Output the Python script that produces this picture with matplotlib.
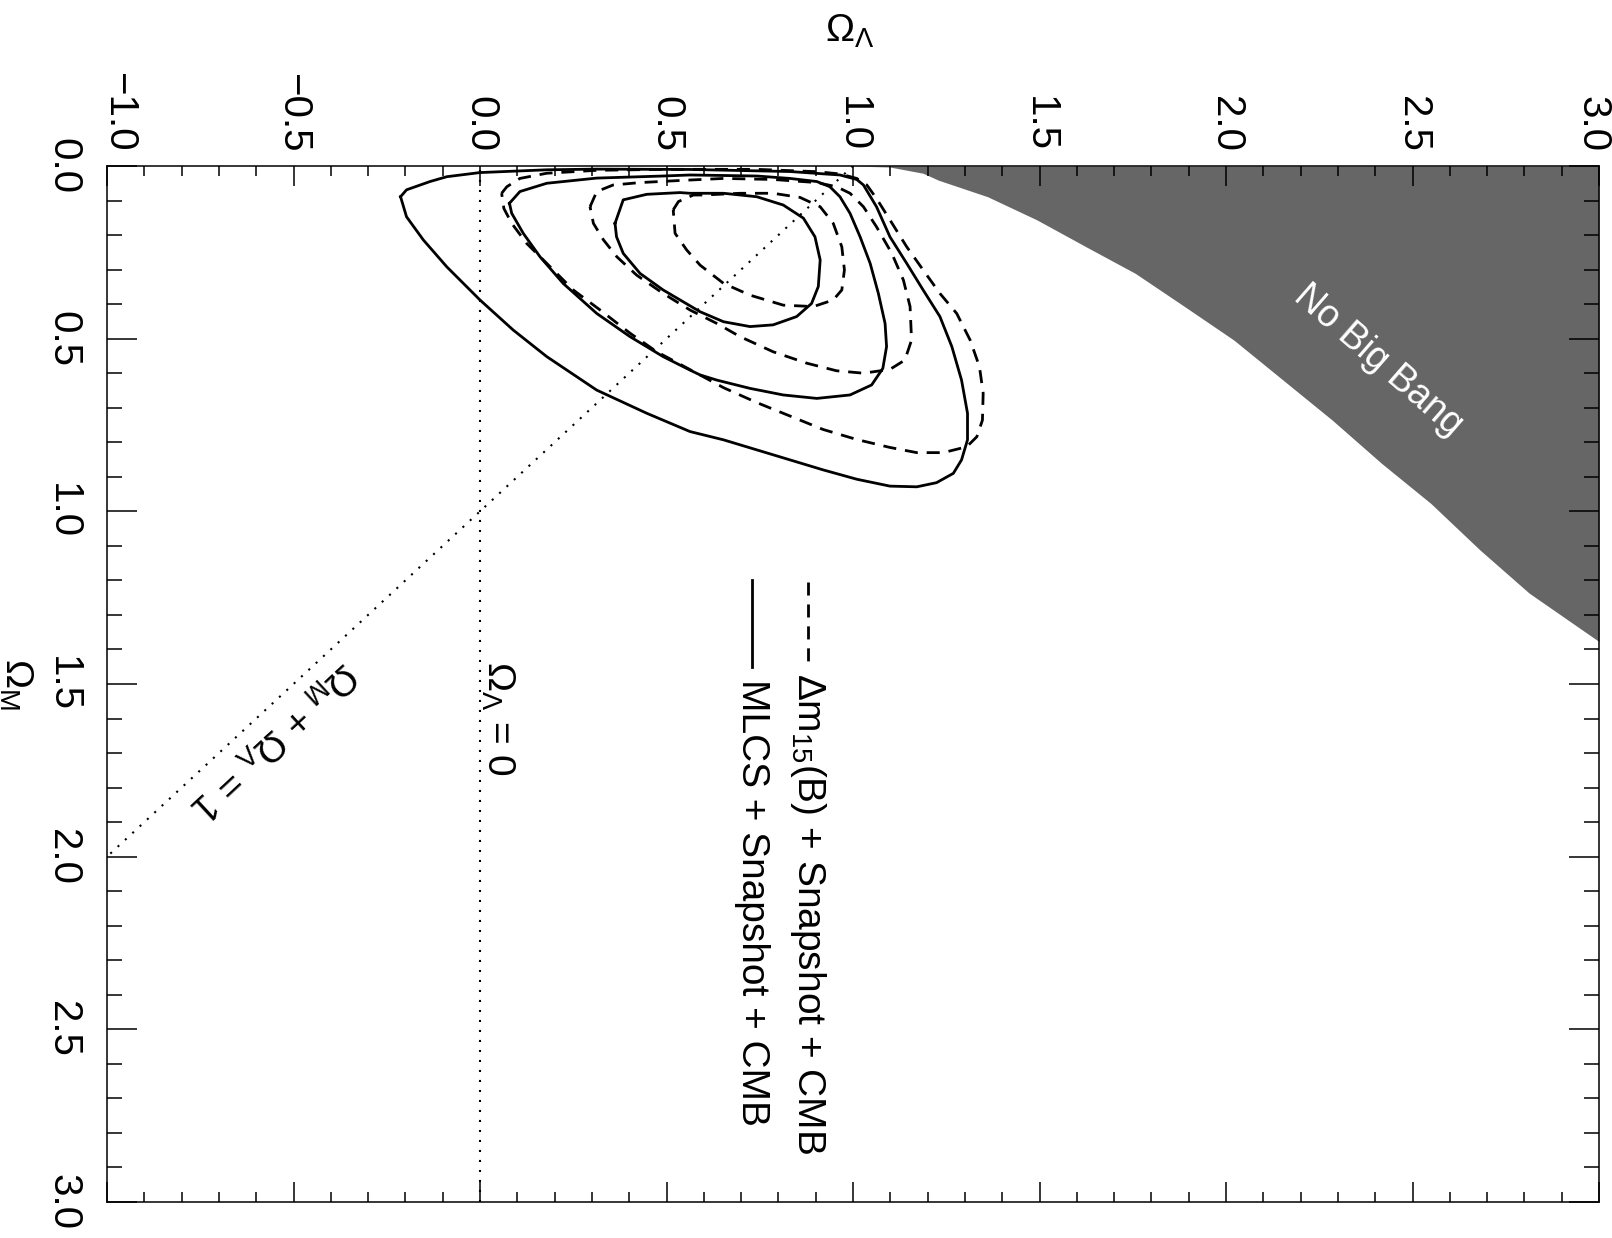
import numpy as np
import matplotlib
matplotlib.use("Agg")
import matplotlib.pyplot as plt
from matplotlib.transforms import ScaledTranslation

plt.rcParams["font.family"] = ["Liberation Sans", "DejaVu Sans"]
plt.rcParams["mathtext.fontset"] = "custom"
plt.rcParams["mathtext.rm"] = "Liberation Sans"
plt.rcParams["mathtext.it"] = "Liberation Sans:italic"
plt.rcParams["mathtext.bf"] = "Liberation Sans:bold"

# -------------------- contours (Omega_Lambda, Omega_M) --------------------
# MLCS + Snapshot + CMB (solid), inner -> outer
s1_lam = [0.362, 0.384, 0.447, 0.536, 0.563, 0.653, 0.742, 0.813, 0.867, 0.898, 0.912, 0.907,
          0.889, 0.849, 0.786, 0.724, 0.653, 0.590, 0.491, 0.429, 0.384, 0.366, 0.362]
s1_om = [0.166, 0.098, 0.082, 0.077, 0.079, 0.079, 0.089, 0.113, 0.151, 0.205, 0.272, 0.349,
         0.398, 0.436, 0.460, 0.465, 0.451, 0.422, 0.359, 0.311, 0.253, 0.205, 0.166]

s2_lam = [0.079, 0.107, 0.179, 0.313, 0.491, 0.563, 0.742, 0.831, 0.903, 0.938, 0.965, 0.992,
          1.019, 1.046, 1.068, 1.086, 1.090, 1.080, 1.050, 0.992, 0.903, 0.813, 0.724, 0.635,
          0.590, 0.563, 0.491, 0.402, 0.313, 0.223, 0.161, 0.116, 0.085, 0.079]
s2_om = [0.108, 0.074, 0.050, 0.035, 0.029, 0.026, 0.029, 0.036, 0.045, 0.060, 0.089, 0.137,
         0.205, 0.282, 0.369, 0.456, 0.523, 0.586, 0.634, 0.663, 0.673, 0.663, 0.644, 0.620,
         0.605, 0.591, 0.552, 0.494, 0.427, 0.340, 0.263, 0.195, 0.137, 0.108]

s3_lam = [-0.213, -0.197, -0.134, -0.089, 0.000, 0.179, 0.313, 0.563, 0.831, 0.965, 1.010, 1.028,
          1.063, 1.099, 1.144, 1.188, 1.233, 1.265, 1.291, 1.307, 1.307, 1.291, 1.269, 1.224,
          1.171, 1.099, 1.010, 0.920, 0.831, 0.742, 0.653, 0.563, 0.447, 0.313, 0.179, 0.089,
          0.000, -0.089, -0.152, -0.197, -0.213]
s3_om = [0.089, 0.069, 0.045, 0.031, 0.019, 0.011, 0.009, 0.010, 0.016, 0.026, 0.039, 0.055,
         0.118, 0.205, 0.282, 0.359, 0.436, 0.523, 0.620, 0.716, 0.793, 0.851, 0.890, 0.917,
         0.929, 0.927, 0.907, 0.880, 0.851, 0.822, 0.793, 0.769, 0.716, 0.649, 0.552, 0.475,
         0.388, 0.292, 0.214, 0.147, 0.089]

# Delta m15(B) + Snapshot + CMB (dashed), inner -> outer
d1_lam = [0.518, 0.532, 0.572, 0.599, 0.697, 0.786, 0.858, 0.912, 0.947, 0.970, 0.977, 0.970,
          0.947, 0.894, 0.813, 0.724, 0.653, 0.590, 0.554, 0.523, 0.518]
d1_om = [0.127, 0.103, 0.084, 0.084, 0.079, 0.079, 0.091, 0.118, 0.166, 0.234, 0.301, 0.359,
         0.388, 0.407, 0.403, 0.374, 0.340, 0.287, 0.243, 0.195, 0.127]

d2_lam = [0.295, 0.313, 0.357, 0.429, 0.536, 0.653, 0.786, 0.903, 0.956, 0.992, 1.028, 1.063,
          1.104, 1.135, 1.153, 1.157, 1.139, 1.099, 1.028, 0.956, 0.876, 0.786, 0.697, 0.635,
          0.563, 0.491, 0.420, 0.367, 0.331, 0.304, 0.295]
d2_om = [0.118, 0.074, 0.055, 0.048, 0.042, 0.036, 0.039, 0.048, 0.060, 0.079, 0.118, 0.176,
         0.253, 0.330, 0.407, 0.504, 0.562, 0.589, 0.600, 0.593, 0.571, 0.538, 0.494, 0.456,
         0.417, 0.369, 0.316, 0.263, 0.214, 0.166, 0.118]

d3_lam = [0.058, 0.072, 0.107, 0.179, 0.313, 0.491, 0.742, 0.903, 0.965, 1.010, 1.037, 1.063,
          1.099, 1.144, 1.188, 1.233, 1.278, 1.314, 1.339, 1.349, 1.347, 1.332, 1.305, 1.242,
          1.171, 1.099, 1.010, 0.920, 0.831, 0.742, 0.653, 0.581, 0.474, 0.402, 0.322, 0.250,
          0.179, 0.125, 0.085, 0.064, 0.058]
d3_om = [0.079, 0.060, 0.036, 0.021, 0.0125, 0.0097, 0.0097, 0.0164, 0.023, 0.036, 0.055, 0.094,
         0.156, 0.234, 0.301, 0.369, 0.427, 0.504, 0.581, 0.658, 0.736, 0.784, 0.813, 0.830,
         0.830, 0.815, 0.792, 0.763, 0.724, 0.685, 0.642, 0.600, 0.538, 0.484, 0.417, 0.359,
         0.282, 0.224, 0.166, 0.123, 0.079]

# "No Big Bang" boundary
nbb_om = [0.0, 0.003, 0.021, 0.041, 0.089, 0.156, 0.234, 0.311, 0.407, 0.504, 0.620, 0.736,
          0.861, 0.977, 1.112, 1.237, 1.377]
nbb_lam = [1.0, 1.099, 1.188, 1.229, 1.361, 1.493, 1.625, 1.757, 1.889, 2.021, 2.153, 2.285,
           2.417, 2.549, 2.681, 2.813, 3.0]

# flat universe line Omega_M + Omega_Lambda = 1
flat_om = [0.0, 2.0]
flat_lam = [1.0, -1.0]

lam_ticks = [-1.0, -0.5, 0.0, 0.5, 1.0, 1.5, 2.0, 2.5, 3.0]
om_ticks = [0.0, 0.5, 1.0, 1.5, 2.0, 2.5, 3.0]


def fmt(v):
    return f"{v:.1f}".replace("-", "\u2212")


# -------------------- figure --------------------
W, H = 1612, 1238
fig = plt.figure(figsize=(W / 100, H / 100), dpi=100)
ax = fig.add_axes([107 / W, 36 / H, 1492 / W, 1036 / H])

ax.fill_betweenx(nbb_om, nbb_lam, 3.0, color="#666666", lw=0, zorder=1)

lw = 2.0
dash = (0, (4.7, 3.2))
for lam, om in [(s1_lam, s1_om), (s2_lam, s2_om), (s3_lam, s3_om)]:
    ax.plot(lam, om, color="black", lw=lw, solid_joinstyle="round", zorder=3)
for lam, om in [(d1_lam, d1_om), (d2_lam, d2_om), (d3_lam, d3_om)]:
    ax.plot(lam, om, color="black", lw=lw, linestyle=dash, zorder=3)

dot = (0, (1, 3.8))
ax.axvline(0.0, color="black", lw=1.5, linestyle=dot, zorder=2)
ax.plot(flat_lam, flat_om, color="black", lw=1.5, linestyle=dot, zorder=2)

ax.set_xlim(-1, 3)
ax.set_ylim(3, 0)

# -------------------- ticks --------------------
ax.set_xticks(lam_ticks)
ax.set_xticklabels([fmt(v) for v in lam_ticks])
ax.set_xticks(np.arange(-1.0, 3.01, 0.1), minor=True)
ax.set_yticks(om_ticks)
ax.set_yticklabels([fmt(v) for v in om_ticks], va="center")
ax.set_yticks(np.arange(0.0, 3.01, 0.1), minor=True)

ax.tick_params(axis="x", which="both", direction="in", top=True, bottom=True,
               labeltop=True, labelbottom=False, labelrotation=-90, width=1.1,
               labelsize=29, pad=10)
ax.tick_params(axis="x", which="major", length=14.4)
ax.tick_params(axis="x", which="minor", length=7.2)
ax.tick_params(axis="y", which="both", direction="in", left=True, right=True,
               labelleft=True, labelright=False, labelrotation=-90, width=1.1,
               labelsize=29, pad=18)
ax.tick_params(axis="y", which="major", length=21.6)
ax.tick_params(axis="y", which="minor", length=10.8)
for sp in ax.spines.values():
    sp.set_linewidth(1.1)

# end labels on the top axis sit a little inside, as in the original
top_labels = [t.label2 for t in ax.xaxis.get_major_ticks()]
top_labels[0].set_transform(top_labels[0].get_transform()
                            + ScaledTranslation(9 / 72, 0, fig.dpi_scale_trans))
top_labels[-1].set_transform(top_labels[-1].get_transform()
                             + ScaledTranslation(-5 / 72, 0, fig.dpi_scale_trans))

# -------------------- labels & annotations --------------------
fig.text(850 / W, 1 - 31 / H, r"$\Omega_\Lambda$", ha="center", va="center", fontsize=28)
fig.text(16 / W, 1 - 684 / H, r"$\Omega_\mathrm{M}$", ha="center", va="center",
         rotation=-90, fontsize=28)

ax.text(0.048, 1.433, r"$\Omega_\Lambda$ = 0", rotation=-90, ha="center", va="top",
        fontsize=28)
ax.text(-0.555, 1.662, r"$\Omega_\mathrm{M}$ + $\Omega_\Lambda$ = 1", rotation=222.8,
        rotation_mode="anchor", ha="center", va="center", fontsize=28)
ax.text(2.408, 0.562, "No Big Bang", rotation=-41, rotation_mode="anchor",
        ha="center", va="center", color="white", fontsize=27)

# legend drawn by hand (rotated text)
ax.plot([0.470, 0.470], [0.598, 0.516], transform=ax.transAxes, color="black",
        lw=lw, linestyle=dash, clip_on=False)
ax.text(0.470, 0.511, r"$\Delta$m$_{15}$(B) + Snapshot + CMB", transform=ax.transAxes,
        rotation=-90, ha="center", va="top", fontsize=28)
ax.plot([0.432, 0.432], [0.600, 0.516], transform=ax.transAxes, color="black",
        lw=lw, clip_on=False)
ax.text(0.432, 0.505, "MLCS + Snapshot + CMB", transform=ax.transAxes,
        rotation=-90, ha="center", va="top", fontsize=28)

fig.savefig("out.png", dpi=100)
